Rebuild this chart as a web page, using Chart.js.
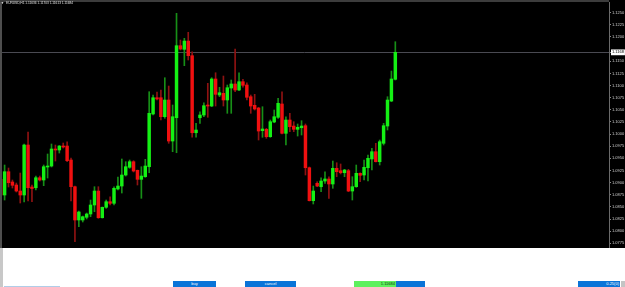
<!DOCTYPE html>
<html><head><meta charset="utf-8">
<script src="https://cdn.jsdelivr.net/npm/chart.js@4.4.1/dist/chart.umd.min.js"></script>
<style>
html,body{margin:0;padding:0;background:#fff;overflow:hidden;}
#wrap{position:relative;width:625px;height:287px;background:#fff;font-family:"Liberation Sans",Arial,sans-serif;}
#c{position:absolute;left:0;top:0;background:#000;}
.a{position:absolute;}
.btn{position:absolute;top:281px;height:6px;background:#0a74d8;color:#fff;font-size:4px;line-height:6px;overflow:hidden;white-space:nowrap;}
</style></head><body>
<div id="wrap">
<canvas id="c" width="625" height="248"></canvas>
<div class="a" style="left:0;top:0;width:2px;height:248px;background:#4e4e4e"></div>
<div class="a" style="left:0;top:0;width:609px;height:2px;background:#3c3c3c"></div>
<div class="a" style="left:1px;top:1px;color:#fff;font-size:3px;line-height:4px">▼</div>
<div class="a" style="left:6px;top:1px;color:#e0e0e0;font-size:3.2px;line-height:4px;white-space:nowrap">EURUSD,H1 1.11636 1.11703 1.11613 1.11684</div>
<div class="a" style="left:0;top:248px;width:3px;height:39px;background:#c8c8c8"></div>
<div class="a" style="left:4px;top:286px;width:56px;height:1px;background:#b0cde8"></div>
<div class="btn" style="left:173px;width:43px;text-align:center">buy</div>
<div class="btn" style="left:245px;width:51px;text-align:center">cancel</div>
<div class="btn" style="left:354px;width:71px"></div>
<div class="btn" style="left:354px;width:42px;background:#5df05d;color:#0a3a0a;text-align:right;padding-right:1px;box-sizing:border-box">1.11684</div>
<div class="btn" style="left:578px;width:42px;text-align:right;padding-right:1px;box-sizing:border-box">0.25(0)</div>
<div class="a" style="left:621px;top:281px;width:4px;height:6px;background:#c4c4c4"></div>
</div>
<script>
const opens=[1.09068,1.08745,1.09225,1.09013,1.08951,1.08827,1.08745,1.09775,1.08910,1.08895,
1.09101,1.09054,1.09322,1.09342,1.09693,1.09672,1.09754,1.09754,1.09466,1.08916,
1.08230,1.08230,1.08286,1.08354,1.08539,1.08827,1.08277,1.08492,1.08607,1.08574,
1.08869,1.08930,1.09157,1.09316,1.09431,1.09254,1.09068,1.09122,1.09328,1.10414,
1.10749,1.10749,1.10358,1.10702,1.09857,1.10337,1.11821,1.11746,1.11917,1.11615,
1.10028,1.10337,1.10393,1.10599,1.10578,1.11135,1.10805,1.10840,1.10702,1.10949,
1.11032,1.10908,1.11079,1.11011,1.10770,1.10593,1.10537,1.10070,1.10098,1.09946,
1.10249,1.10346,1.10620,1.10016,1.10290,1.10166,1.10098,1.10131,1.10173,1.09307,
1.08628,1.08986,1.08916,1.09033,1.09075,1.08972,1.09295,1.09246,1.09204,1.09246,
1.08827,1.08916,1.09192,1.09157,1.09307,1.09487,1.09637,1.09431,1.09810,1.10166,
1.10681,1.11128];
const highs=[1.09116,1.09363,1.09301,1.09054,1.08992,1.09198,1.09796,1.10043,1.08951,1.09136,
1.09136,1.09363,1.09590,1.09796,1.09775,1.09765,1.09816,1.09843,1.09507,1.08930,
1.08415,1.08312,1.08374,1.08642,1.08916,1.08916,1.08498,1.08642,1.08710,1.08916,
1.09116,1.09487,1.09431,1.09466,1.09452,1.09260,1.09328,1.09480,1.10873,1.10805,
1.10867,1.10908,1.11161,1.10990,1.10599,1.12488,1.11938,1.11973,1.12097,1.11697,
1.10222,1.10461,1.10646,1.11046,1.11161,1.11264,1.10964,1.11196,1.11011,1.11114,
1.11753,1.11264,1.11128,1.11058,1.10805,1.10819,1.10552,1.10564,1.10119,1.10290,
1.10496,1.10737,1.10873,1.10358,1.10428,1.10255,1.10208,1.10276,1.10208,1.09322,
1.08930,1.09019,1.09101,1.09225,1.09122,1.09445,1.09410,1.09384,1.09274,1.09274,
1.09122,1.09363,1.09204,1.09466,1.09569,1.09707,1.09810,1.09878,1.10222,1.10770,
1.11299,1.11903];
const lows=[1.08580,1.08642,1.08910,1.08889,1.08807,1.08580,1.08601,1.08621,1.08607,1.08848,
1.09033,1.08937,1.09095,1.09322,1.09445,1.09610,1.09713,1.09431,1.08621,1.07783,
1.08092,1.08189,1.08251,1.08298,1.08401,1.08265,1.08271,1.08471,1.08539,1.08539,
1.08848,1.08786,1.09136,1.09295,1.09219,1.08951,1.08677,1.09110,1.09204,1.10393,
1.10702,1.10290,1.10325,1.09810,1.09637,1.09616,1.11732,1.11409,1.11526,1.09934,
1.09934,1.10222,1.10358,1.10346,1.10564,1.10578,1.10770,1.10578,1.10428,1.10428,
1.10873,1.10894,1.10964,1.10702,1.10428,1.10496,1.09878,1.09934,1.09913,1.09934,
1.10234,1.10325,1.10002,1.09775,1.10049,1.10049,1.09960,1.09981,1.09157,1.08621,
1.08560,1.08916,1.08813,1.08986,1.08677,1.08883,1.09122,1.09178,1.09122,1.08813,
1.08642,1.08904,1.09019,1.09054,1.09033,1.09260,1.09425,1.09363,1.09775,1.10084,
1.10667,1.11114];
const closes=[1.08745,1.09225,1.08998,1.08945,1.08827,1.08745,1.09775,1.08895,1.08879,1.09101,
1.09054,1.09328,1.09342,1.09693,1.09672,1.09754,1.09734,1.09452,1.08916,1.08230,
1.08395,1.08298,1.08354,1.08539,1.08827,1.08277,1.08492,1.08607,1.08574,1.08883,
1.08930,1.09157,1.09328,1.09431,1.09239,1.09068,1.09136,1.09342,1.10428,1.10749,
1.10723,1.10358,1.10702,1.09857,1.10358,1.11821,1.11753,1.11917,1.11615,1.10028,
1.10084,1.10393,1.10585,1.10578,1.11135,1.10819,1.10852,1.10702,1.10955,1.11032,
1.10908,1.11079,1.11005,1.10758,1.10578,1.10517,1.10063,1.10105,1.09946,1.10255,
1.10358,1.10634,1.10016,1.10290,1.10152,1.10098,1.10140,1.10166,1.09307,1.08628,
1.08827,1.08930,1.09033,1.09075,1.08972,1.09295,1.09225,1.09204,1.09260,1.08827,
1.08916,1.09192,1.09151,1.09316,1.09501,1.09637,1.09431,1.09843,1.10173,1.10702,
1.11135,1.11684];
const tickValues=[1.1250,1.1225,1.1200,1.1175,1.1150,1.1125,1.1100,1.1075,1.1050,1.1025,
1.1000,1.0975,1.0950,1.0925,1.0900,1.0875,1.0850,1.0825,1.0800,1.0775];
const currentPrice=1.11684;

const up=opens.map((o,i)=>closes[i]>=o);
const wickData=opens.map((o,i)=>({x:i,y:[lows[i],highs[i]]}));
const bodyData=opens.map((o,i)=>({x:i,y:[o,closes[i]]}));
const shownTicks=tickValues.filter(v=>Math.abs(v-currentPrice)>0.001).concat([currentPrice]).sort((a,b)=>a-b);

new Chart(document.getElementById('c'),{
  data:{datasets:[
    {type:'bar',data:wickData,backgroundColor:up.map(u=>u?'#178f17':'#8f1212'),
     barThickness:1,maxBarThickness:1,grouped:false,order:2},
    {type:'bar',data:bodyData,backgroundColor:up.map(u=>u?'#14f014':'#f01010'),
     barThickness:3,maxBarThickness:2.8,minBarLength:1,grouped:false,order:1}
  ]},
  options:{
    responsive:false,animation:false,devicePixelRatio:1,
    layout:{padding:{top:2,bottom:1,left:0,right:0}},
    plugins:{legend:{display:false},tooltip:{enabled:false},title:{display:false}},
    scales:{
      x:{type:'linear',min:-0.18,max:155.69,offset:false,display:false},
      y:{position:'right',min:1.07674,max:1.12721,
        afterBuildTicks:s=>{s.ticks=shownTicks.map(v=>({value:v}));},
        afterFit:s=>{s.width=16;s.paddingTop=0;s.paddingBottom=0;},
        border:{display:true,color:'#6a6a6a',width:1},
        grid:{drawOnChartArea:true,drawTicks:true,tickLength:2,tickColor:'#8a8a8a',lineWidth:1,
          color:c=>(c.tick&&c.tick.value===currentPrice)?'#4a4a52':'rgba(0,0,0,0)'},
        ticks:{padding:1,autoSkip:false,maxRotation:0,
          font:{family:'Liberation Sans',size:4},
          color:c=>(c.tick&&c.tick.value===currentPrice)?'#000':'#cfcfcf',
          showLabelBackdrop:c=>!!(c.tick&&c.tick.value===currentPrice),
          backdropColor:'#fff',backdropPadding:{left:1,right:1,top:0.5,bottom:0.5},
          callback:v=>v.toFixed(4)}
      }
    }
  }
});
</script>
</body></html>
